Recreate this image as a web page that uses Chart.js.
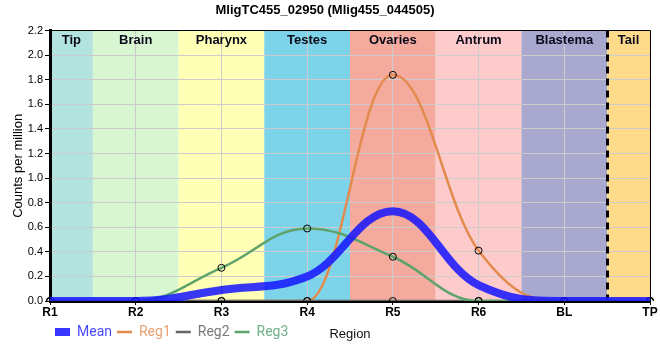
<!DOCTYPE html>
<html>
<head>
<meta charset="utf-8">
<script src="https://cdn.jsdelivr.net/npm/chart.js@4.4.1/dist/chart.umd.min.js"></script>
<style>
html,body{margin:0;padding:0;background:#fff;}
#wrap{width:660px;height:360px;position:relative;}
</style>
</head>
<body>
<div id="wrap"><canvas id="c" width="660" height="360"></canvas></div>
<script>
const chartTitle = 'MligTC455_02950 (Mlig455_044505)';
const categories = ['R1','R2','R3','R4','R5','R6','BL','TP'];
const meanValues = [0, 0, 0.09, 0.2, 0.73, 0.13, 0, 0];
const reg1Values = [0, 0, 0, 0, 1.84, 0.41, 0, 0];
const reg2Values = [0, 0, 0, 0, 0, 0, 0, 0];
const reg3Values = [0, 0, 0.27, 0.59, 0.36, 0, 0, 0];
const bandNames = ['Tip','Brain','Pharynx','Testes','Ovaries','Antrum','Blastema','Tail'];
const bandColors = ['#b3e3df','#d8f6d1','#ffffb5','#7dd4ea','#f4aa9c','#fdcbcb','#a9a9cf','#fddb8b'];
const dashedAfter = 'BL';
const yTitle = 'Counts per million';
const xTitle = 'Region';

// Spline smoothing with clamped control points (no overshoot), applied to
// the points that Chart.js has already placed through its scales.
const splinePlugin = {
  id: 'smoothSpline',
  beforeDatasetDraw(chart, args) {
    const meta = chart.getDatasetMeta(args.index);
    const line = meta.dataset;
    if (!line) return;
    if (line.updateControlPoints) line.updateControlPoints(chart.chartArea, 'x');
    const pts = meta.data;
    const s = 1.5, den = s + 1;
    for (let i = 0; i < pts.length; i++) {
      const p = pts[i];
      p.cp1x = p.x; p.cp1y = p.y; p.cp2x = p.x; p.cp2y = p.y;
    }
    for (let i = 1; i < pts.length - 1; i++) {
      const p = pts[i], a = pts[i - 1], b = pts[i + 1];
      const lx = (s * p.x + a.x) / den;
      let ly = (s * p.y + a.y) / den;
      const rx = (s * p.x + b.x) / den;
      let ry = (s * p.y + b.y) / den;
      let corr = 0;
      if (rx !== lx) corr = ((ry - ly) * (rx - p.x)) / (rx - lx) + p.y - ry;
      ly += corr; ry += corr;
      if (ly > a.y && ly > p.y) { ly = Math.max(a.y, p.y); ry = 2 * p.y - ly; }
      else if (ly < a.y && ly < p.y) { ly = Math.min(a.y, p.y); ry = 2 * p.y - ly; }
      if (ry > b.y && ry > p.y) { ry = Math.max(b.y, p.y); ly = 2 * p.y - ry; }
      else if (ry < b.y && ry < p.y) { ry = Math.min(b.y, p.y); ly = 2 * p.y - ry; }
      p.cp1x = lx; p.cp1y = ly; p.cp2x = rx; p.cp2y = ry;
    }
    line._pointsUpdated = true;
    line._path = undefined;
  }
};

const bandsPlugin = {
  id: 'bands',
  beforeDraw(chart) {
    const {ctx, chartArea: a, scales: {x}} = chart;
    ctx.save();
    bandNames.forEach((name, i) => {
      let l = x.getPixelForValue(i - 0.5), r = x.getPixelForValue(i + 0.5);
      l = Math.max(l, a.left); r = Math.min(r, a.right);
      ctx.fillStyle = bandColors[i];
      ctx.fillRect(l, a.top, r - l, a.bottom - a.top);
    });
    ctx.restore();
  },
  beforeDatasetsDraw(chart) {
    const {ctx, chartArea: a, scales: {x}} = chart;
    ctx.save();
    const di = categories.indexOf(dashedAfter);
    const dx = Math.round(x.getPixelForValue(di + 0.5)) + 0.5;
    ctx.strokeStyle = '#000';
    ctx.lineWidth = 3;
    ctx.setLineDash([7, 5]);
    ctx.beginPath(); ctx.moveTo(dx, a.top); ctx.lineTo(dx, a.bottom); ctx.stroke();
    ctx.setLineDash([]);
    ctx.fillStyle = '#0a0a1a';
    ctx.font = 'bold 13px "Liberation Sans", Arial, sans-serif';
    ctx.textAlign = 'center'; ctx.textBaseline = 'middle';
    bandNames.forEach((name, i) => {
      let l = x.getPixelForValue(i - 0.5), r = x.getPixelForValue(i + 0.5);
      l = Math.max(l, a.left); r = Math.min(r, a.right);
      ctx.fillText(name, (l + r) / 2, a.top + 10);
    });
    ctx.restore();
  },
  afterDraw(chart) {
    const {ctx, chartArea: a} = chart;
    ctx.save();
    ctx.strokeStyle = '#000'; ctx.lineWidth = 1;
    ctx.beginPath();
    ctx.moveTo(a.left, Math.round(a.top) - 0.5);
    ctx.lineTo(Math.round(a.right) + 0.5, Math.round(a.top) - 0.5);
    ctx.lineTo(Math.round(a.right) + 0.5, a.bottom);
    ctx.stroke();
    const lg = chart.legend;
    ctx.fillStyle = '#111';
    ctx.font = '13px "Liberation Sans", Arial, sans-serif';
    ctx.textAlign = 'center'; ctx.textBaseline = 'middle';
    const ly = lg && lg.legendHitBoxes && lg.legendHitBoxes.length ? lg.legendHitBoxes[0].top + lg.legendHitBoxes[0].height / 2 : 332;
    ctx.fillText(xTitle, (a.left + a.right) / 2, ly + 2);
    ctx.restore();
  }
};

const textColors = ['#4a4aff', '#e8a273', '#7a7a7a', '#6fb08a'];

new Chart(document.getElementById('c'), {
  type: 'line',
  data: {
    labels: categories,
    datasets: [
      {label: 'Mean', data: meanValues, borderColor: 'rgba(20,20,255,0.85)', backgroundColor: 'rgba(20,20,255,0.85)', borderWidth: 8, pointRadius: 0, tension: 0.4, order: 0},
      {label: 'Reg1', data: reg1Values, borderColor: '#e38b4e', backgroundColor: 'rgba(0,0,0,0)', borderWidth: 2.5, pointRadius: 3.5, pointBorderColor: '#000', pointBorderWidth: 1, pointBackgroundColor: 'rgba(0,0,0,0)', tension: 0.4, order: 3},
      {label: 'Reg2', data: reg2Values, borderColor: '#666666', backgroundColor: 'rgba(0,0,0,0)', borderWidth: 2.5, pointRadius: 3.5, pointBorderColor: '#000', pointBorderWidth: 1, pointBackgroundColor: 'rgba(0,0,0,0)', tension: 0.4, order: 2},
      {label: 'Reg3', data: reg3Values, borderColor: '#5ea36c', backgroundColor: 'rgba(0,0,0,0)', borderWidth: 2.5, pointRadius: 3.5, pointBorderColor: '#000', pointBorderWidth: 1, pointBackgroundColor: 'rgba(0,0,0,0)', tension: 0.4, order: 1}
    ]
  },
  options: {
    responsive: false,
    animation: false,
    layout: {padding: {left: 0, right: 10, top: 0, bottom: 11}},
    plugins: {
      title: {display: true, text: chartTitle, color: '#000', font: {family: '"Liberation Sans", Arial, sans-serif', size: 13, weight: 'bold'}, padding: {top: 3, bottom: 12}},
      legend: {
        position: 'bottom', align: 'start', fullSize: false,
        labels: {
          usePointStyle: true, pointStyle: 'line', pointStyleWidth: 15, boxHeight: 8, padding: 5,
          font: {family: 'Roboto, "Liberation Sans", sans-serif', size: 14},
          generateLabels(chart) {
            return chart.data.datasets.map((ds, i) => ({
              text: ds.label, fillStyle: ds.borderColor, strokeStyle: ds.borderColor,
              lineWidth: ds.borderWidth, pointStyle: 'line', fontColor: textColors[i],
              hidden: false, datasetIndex: i
            }));
          }
        }
      },
      tooltip: {enabled: false}
    },
    scales: {
      x: {
        type: 'category', offset: false,
        grid: {color: '#cccccc', tickColor: '#000', tickLength: 4, drawOnChartArea: true},
        border: {color: '#000', width: 3},
        ticks: {color: '#000', font: {family: '"Liberation Sans", Arial, sans-serif', size: 12, weight: 'bold'}, padding: 0, maxRotation: 0},
        afterFit(s) { s.height = 19; }
      },
      y: {
        min: 0, max: 2.2,
        grid: {color: '#cccccc', tickColor: '#000', tickLength: 5},
        border: {color: '#000', width: 3},
        ticks: {stepSize: 0.2, color: '#000', padding: 2, font: {family: '"Liberation Sans", Arial, sans-serif', size: 11}, callback: v => Number(v).toFixed(1)},
        title: {display: true, text: yTitle, color: '#000', font: {family: '"Liberation Sans", Arial, sans-serif', size: 13}, padding: {top: 11, bottom: 0}},
        afterFit(s) { s.width = 50; }
      }
    }
  },
  plugins: [bandsPlugin, splinePlugin]
});
</script>
</body>
</html>
